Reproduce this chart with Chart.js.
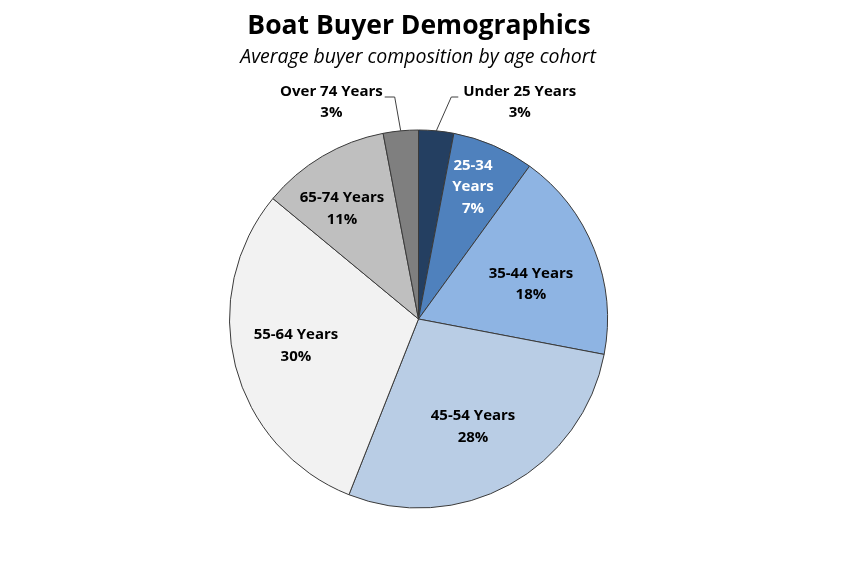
<!DOCTYPE html>
<html>
<head>
<meta charset="utf-8">
<script src="https://cdn.jsdelivr.net/npm/chart.js@4"></script>
<style>
html,body{margin:0;padding:0;background:#fff;}
#wrap{width:860px;height:565px;position:relative;}
</style>
</head>
<body>
<div id="wrap"><canvas id="c"></canvas></div>
<script>
const categories = ["Under 25 Years","25-34 Years","35-44 Years","45-54 Years","55-64 Years","65-74 Years","Over 74 Years"];
const shares = [3,7,18,28,30,11,3];
const sliceColors = ["#243F61","#4F81BD","#8EB4E3","#B9CDE5","#F2F2F2","#BFBFBF","#7F7F7F"];
const titleText = "Boat Buyer Demographics";
const subtitleText = "Average buyer composition by age cohort";

// label style: radial fraction, angle tweak (deg), text colour, line breaks; leader geometry for outside labels
const labelStyle = [
  {outside:true, side:1, elbowDx:15, run:7, gap:5},
  {frac:0.756, dAng:-1, color:"#fff", lines:["25-34","Years"]},
  {frac:0.623, dAng:4.3, color:"#000"},
  {frac:0.64, dAng:2, color:"#000"},
  {frac:0.664, dAng:2, color:"#000"},
  {frac:0.709, dAng:-4.2, color:"#000"},
  {outside:true, side:-1, elbowDx:-6, run:10, gap:2}
];
const FONT = "'Open Sans', sans-serif";

const labelPlugin = {
  id:'sliceLabels',
  afterDatasetsDraw(chart){
    const ctx = chart.ctx;
    const meta = chart.getDatasetMeta(0);
    ctx.save();
    ctx.textAlign='center';
    ctx.textBaseline='middle';
    ctx.font = "bold 15px " + FONT;
    meta.data.forEach((arc,i)=>{
      const p = arc.getProps(['x','y','startAngle','endAngle','outerRadius'],true);
      const st = labelStyle[i];
      const mid = (p.startAngle+p.endAngle)/2;
      const pct = shares[i] + "%";
      if(st.outside){
        const ex = p.x + Math.cos(mid)*p.outerRadius;
        const ey = p.y + Math.sin(mid)*p.outerRadius;
        const elx = ex + st.elbowDx;
        const ely = p.y - p.outerRadius - 33;
        const endx = elx + st.side*st.run;
        ctx.strokeStyle = "#404040";
        ctx.lineWidth = 1;
        ctx.beginPath();
        ctx.moveTo(ex,ey);
        ctx.lineTo(elx,ely);
        ctx.lineTo(endx,ely);
        ctx.stroke();
        ctx.fillStyle = "#000";
        const tw = ctx.measureText(categories[i]).width;
        const cx = endx + st.side*(tw/2+st.gap);
        ctx.fillText(categories[i], cx, ely-5);
        ctx.fillText(pct, cx, ely+16);
      } else {
        const a = mid + st.dAng*Math.PI/180;
        const cx = p.x + Math.cos(a)*p.outerRadius*st.frac;
        const cy = p.y + Math.sin(a)*p.outerRadius*st.frac;
        const lines = (st.lines || [categories[i]]).concat([pct]);
        const lh = 21.5;
        ctx.fillStyle = st.color;
        lines.forEach((t,k)=>{
          ctx.fillText(t, cx, cy + (k-(lines.length-1)/2)*lh);
        });
      }
    });
    ctx.restore();
  },
  afterDraw(chart){
    const ctx = chart.ctx;
    ctx.save();
    ctx.textAlign='center';
    ctx.textBaseline='alphabetic';
    ctx.fillStyle="#000";
    ctx.font = "bold 26.5px " + FONT;
    ctx.fillText(titleText, 419, 34);
    ctx.font = "italic 19.5px " + FONT;
    ctx.fillText(subtitleText, 418, 63);
    ctx.restore();
  }
};

new Chart(document.getElementById('c'), {
  type:'pie',
  data:{
    labels:categories,
    datasets:[{
      data:shares,
      backgroundColor:sliceColors,
      borderColor:"#3A3A3A",
      borderWidth:1
    }]
  },
  options:{
    responsive:true,
    maintainAspectRatio:false,
    animation:false,
    layout:{padding:{top:129,bottom:56,left:229,right:252}},
    plugins:{legend:{display:false},tooltip:{enabled:false},title:{display:false}}
  },
  plugins:[labelPlugin]
});
</script>
</body>
</html>
